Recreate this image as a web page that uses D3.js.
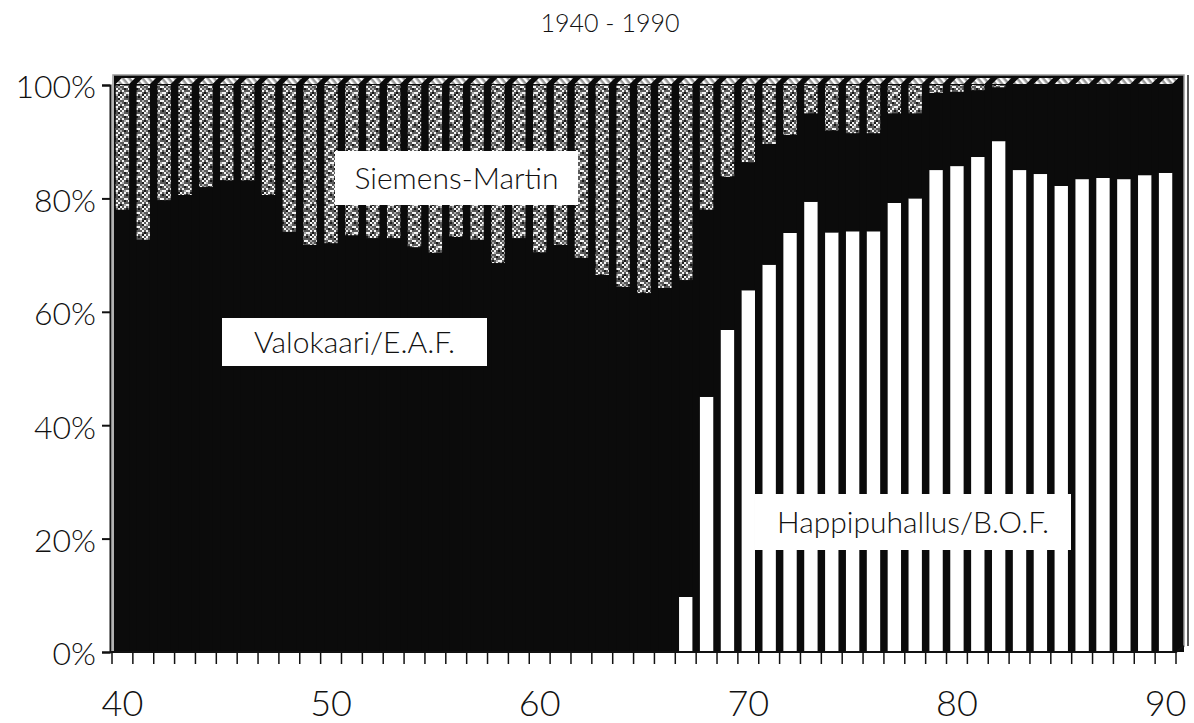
<!DOCTYPE html>
<html>
<head>
<meta charset="utf-8">
<script src="https://cdn.jsdelivr.net/npm/d3@7"></script>
<style>
  body { margin: 0; background: #fff; }
  text { font-family: Lato, "Noto Sans", sans-serif; font-weight: 300; fill: #111; }
</style>
</head>
<body>
<script>
// steel production by process, Finland, share of total (%)

var years = d3.range(1940, 1991);

// Happipuhallus / B.O.F. (bottom, white)
var bof = [0, 0, 0, 0, 0, 0, 0, 0, 0, 0,
  0, 0, 0, 0, 0, 0, 0, 0, 0, 0,
  0, 0, 0, 0, 0, 0, 0, 9.7, 45, 56.8,
  63.8, 68.3, 73.9, 79.4, 74, 74.2, 74.2, 79.2, 80, 85,
  85.7, 87.3, 90.1, 85, 84.3, 82.2, 83.4, 83.6, 83.4, 84.1,
  84.5];

// Siemens-Martin (top, dithered grey)
var sm = [22, 27.3, 20.3, 19.4, 18, 16.8, 16.8, 19.4, 25.9, 28.2,
  27.9, 26.5, 27, 27, 28.6, 29.6, 26.8, 27.3, 31.4, 27,
  29.5, 28.2, 30.5, 33.5, 35.6, 36.7, 35.8, 34.4, 22, 16.2,
  13.6, 10.4, 8.8, 5, 8, 8.5, 8.5, 5, 5, 1.4,
  1.2, 0.9, 0.4, 0, 0, 0, 0, 0, 0, 0,
  0];

var yTicks = [0, 20, 40, 60, 80, 100];
var xLabels = [1940, 1950, 1960, 1970, 1980, 1990];

// Valokaari / E.A.F. is the rest
var rows = years.map(function(y, i) {
  return { year: y, bof: bof[i], eaf: 100 - bof[i] - sm[i], sm: sm[i] };
});

var width = 1194, height = 723;
// note: "top" is taken by window.top, so plot* names
var plotLeft = 112, plotRight = 1176, plotTop = 85, plotBottom = 652;
var dx = 6, dy = -8;   // fake 3d depth

var svg = d3.select('body').append('svg')
  .attr('width', width)
  .attr('height', height);

// dithered fill for the open hearth bars (coarse specks like the scan)
var defs = svg.append('defs');
var pat = defs.append('pattern')
  .attr('id', 'dither')
  .attr('patternUnits', 'userSpaceOnUse')
  .attr('width', 12).attr('height', 14);
pat.append('rect').attr('width', 12).attr('height', 14).attr('fill', '#5a5a5a');
[[0,0],[6,2],[2,6],[8,8],[4,10],[10,12],[8,4],[0,10],[4,2],[10,6],[2,12],[6,8]].forEach(function(p) {
  pat.append('rect').attr('x', p[0]).attr('y', p[1]).attr('width', 2).attr('height', 2).attr('fill', '#f4f4f4');
});
[[4,4],[10,0],[0,8],[6,12],[10,10]].forEach(function(p) {
  pat.append('rect').attr('x', p[0]).attr('y', p[1]).attr('width', 2).attr('height', 2).attr('fill', '#1a1a1a');
});
[[2,0],[8,10],[4,8],[10,2],[0,4]].forEach(function(p) {
  pat.append('rect').attr('x', p[0]).attr('y', p[1]).attr('width', 2).attr('height', 2).attr('fill', '#aaa');
});

// hatch for the column tops
var hatch = defs.append('pattern')
  .attr('id', 'hatch')
  .attr('patternUnits', 'userSpaceOnUse')
  .attr('width', 5).attr('height', 5)
  .attr('patternTransform', 'rotate(-40)');
hatch.append('rect').attr('width', 5).attr('height', 5).attr('fill', '#999');
hatch.append('rect').attr('width', 2.5).attr('height', 5).attr('fill', '#fff');

var x = d3.scaleBand()
  .domain(years)
  .range([plotLeft, plotRight])
  .paddingInner(0.36)
  .paddingOuter(0.18);

var y = d3.scaleLinear()
  .domain([0, 100])
  .range([plotBottom, plotTop]);

var stack = d3.stack().keys(['bof', 'eaf', 'sm']);
var series = stack(rows);
var fills = { bof: '#fff', eaf: '#0b0b0b', sm: 'url(#dither)' };

// black back wall
svg.append('rect')
  .attr('x', plotLeft + 2)
  .attr('y', plotTop + dy - 2)
  .attr('width', plotRight - plotLeft + dx)
  .attr('height', plotBottom - plotTop - dy + 2)
  .attr('fill', '#0b0b0b');

svg.append('g')
  .selectAll('g')
  .data(series)
  .join('g')
  .attr('fill', function(d) { return fills[d.key]; })
  .selectAll('rect')
  .data(function(d) { return d; })
  .join('rect')
  .attr('x', function(d) { return x(d.data.year); })
  .attr('y', function(d) { return y(d[1]); })
  .attr('width', x.bandwidth())
  .attr('height', function(d) { return y(d[0]) - y(d[1]); });

// top faces of the 3d columns
svg.append('g')
  .selectAll('path')
  .data(rows)
  .join('path')
  .attr('d', function(d) {
    var x0 = x(d.year), w = x.bandwidth(), y0 = y(100);
    return 'M' + x0 + ',' + (y0 - 1) + 'L' + (x0 + w) + ',' + (y0 - 1) +
      'L' + (x0 + w + dx) + ',' + (y0 + dy + 1) + 'L' + (x0 + dx) + ',' + (y0 + dy + 1) + 'Z';
  })
  .attr('fill', 'url(#hatch)');

// frame edges
svg.append('path')
  .attr('d', 'M' + (plotLeft + 1) + ',' + plotBottom + 'V' + (plotTop + dy - 2) + 'H' + (plotRight + dx + 2) + 'V' + (plotBottom + dy + 2))
  .attr('fill', 'none')
  .attr('stroke', '#999')
  .attr('stroke-width', 1.5);
svg.append('line')
  .attr('x1', plotRight + dx + 6).attr('x2', plotRight + dx + 6)
  .attr('y1', plotTop + dy - 2).attr('y2', plotBottom + dy + 2)
  .attr('stroke', '#222').attr('stroke-width', 1.5);

// y axis
var yAxis = svg.append('g')
  .attr('transform', 'translate(' + (plotLeft - 2) + ',0)')
  .call(d3.axisLeft(y)
    .tickValues(yTicks)
    .tickSize(8)
    .tickPadding(6)
    .tickFormat(function(d) { return d + '%'; }));
yAxis.select('.domain').attr('stroke', '#111').attr('stroke-width', 2);
yAxis.selectAll('.tick line').attr('stroke', '#111').attr('stroke-width', 2);
yAxis.selectAll('text')
  .attr('font-size', 32)
  .attr('dy', '0.4em')
  .attr('fill', '#111')
  .style('font-family', 'Lato, "Noto Sans", sans-serif')
  .style('font-weight', 300);

// x axis: ticks between years, labels every ten years
var tickX = years.map(function(yr) { return x(yr) - x.step() * x.paddingInner() / 2; });
tickX.push(plotRight);

var xg = svg.append('g');
xg.append('path')
  .attr('d', 'M' + (plotLeft - 2) + ',' + plotBottom + 'H' + plotRight + 'L' + (plotRight + dx + 2) + ',' + (plotBottom + dy + 2))
  .attr('fill', 'none')
  .attr('stroke', '#111')
  .attr('stroke-width', 2);
xg.selectAll('line')
  .data(tickX)
  .join('line')
  .attr('x1', function(d) { return d; })
  .attr('x2', function(d) { return d; })
  .attr('y1', plotBottom)
  .attr('y2', plotBottom + 12)
  .attr('stroke', '#111')
  .attr('stroke-width', 1.5);
xg.selectAll('text')
  .data(xLabels)
  .join('text')
  .attr('x', function(d) { return x(d) + x.bandwidth() / 2; })
  .attr('y', 716)
  .attr('text-anchor', 'middle')
  .attr('font-size', 36)
  .text(function(d) { return String(d).slice(2); });

// title
svg.append('text')
  .attr('x', 610)
  .attr('y', 32)
  .attr('text-anchor', 'middle')
  .attr('font-size', 25)
  .text('1940 - 1990');

// series labels in white boxes
var labels = [
  { text: 'Siemens-Martin', x: 335, y: 151, w: 243, h: 54 },
  { text: 'Valokaari/E.A.F.', x: 222, y: 318, w: 265, h: 48 },
  { text: 'Happipuhallus/B.O.F.', x: 755, y: 494, w: 316, h: 56 }
];
var lg = svg.append('g')
  .selectAll('g')
  .data(labels)
  .join('g');
lg.append('rect')
  .attr('x', function(d) { return d.x; })
  .attr('y', function(d) { return d.y; })
  .attr('width', function(d) { return d.w; })
  .attr('height', function(d) { return d.h; })
  .attr('fill', '#fff');
lg.append('text')
  .attr('x', function(d) { return d.x + d.w / 2; })
  .attr('y', function(d) { return d.y + d.h / 2; })
  .attr('dy', '0.36em')
  .attr('text-anchor', 'middle')
  .attr('font-size', 30)
  .text(function(d) { return d.text; });
</script>
</body>
</html>
